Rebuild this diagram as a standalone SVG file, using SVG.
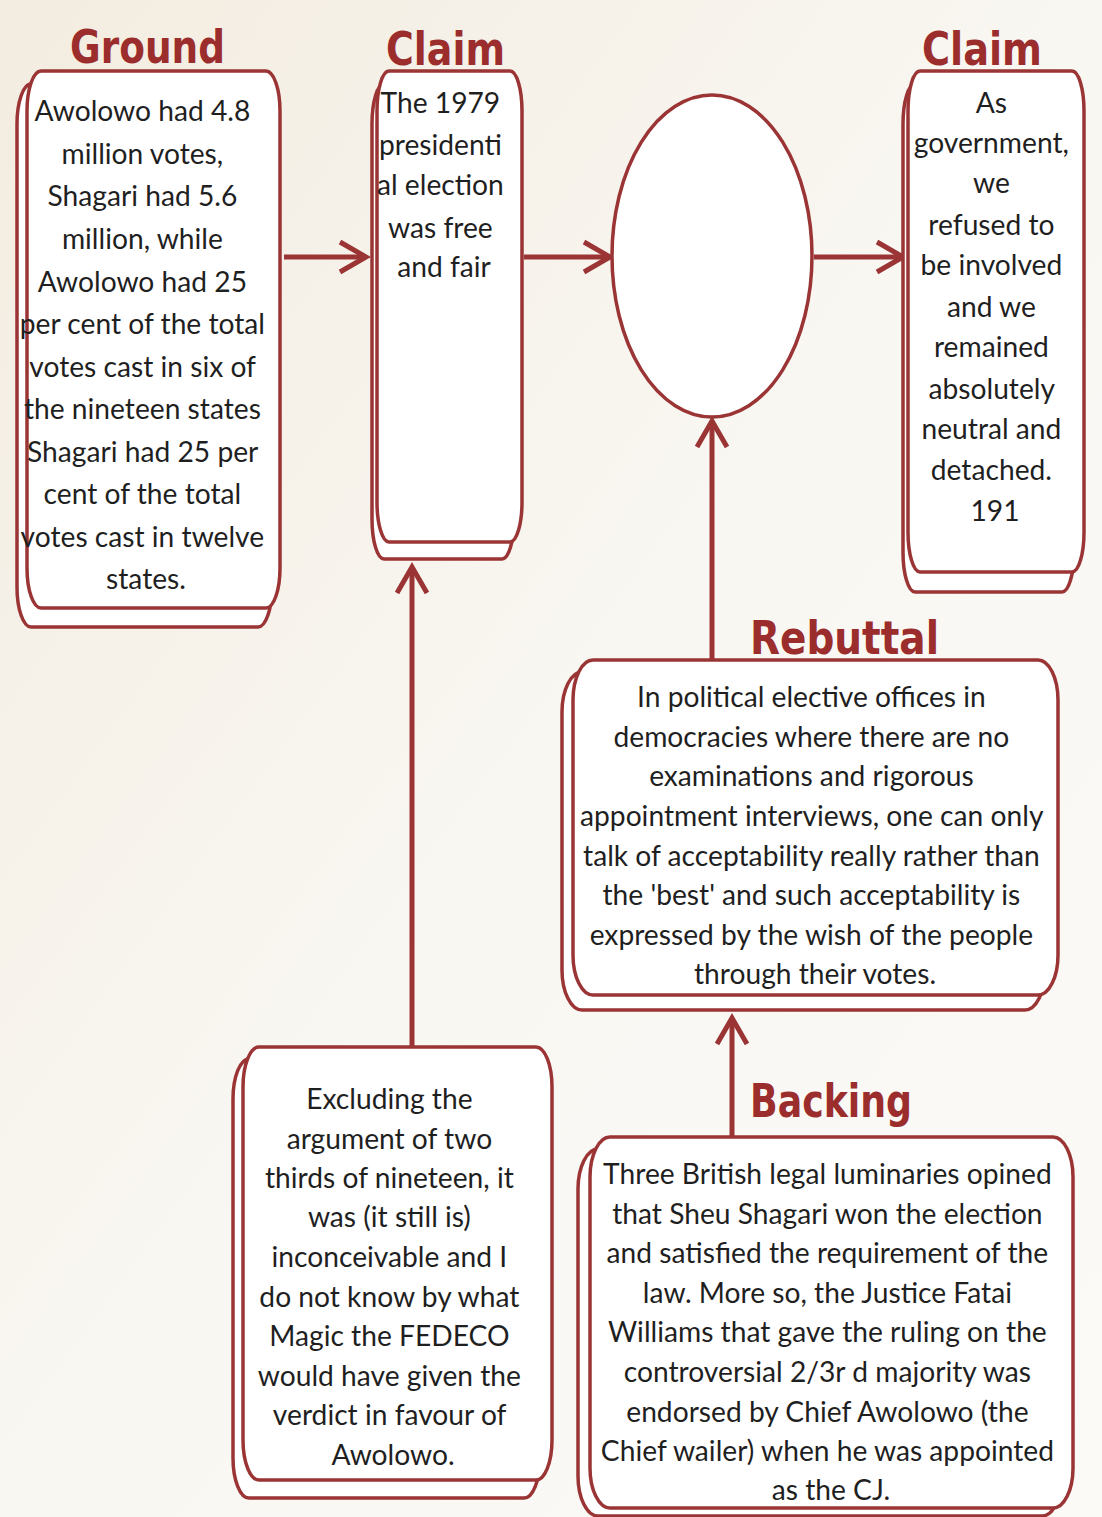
<svg xmlns="http://www.w3.org/2000/svg" width="1102" height="1517" viewBox="0 0 1102 1517">
  <style>
    .bx { fill: #ffffff; stroke: #9b3434; stroke-width: 3.5; }
    .body { font-family: Lato, "Open Sans", sans-serif; font-size: 28.2px; fill: #1f1f1f; text-anchor: middle; }
    .ttl { font-family: "DejaVu Sans", sans-serif; font-weight: bold; font-size: 46px; fill: #9b2d2d; }
    .ln { stroke: #9b3434; stroke-width: 5; fill: none; }
  </style>
  <defs>
    <linearGradient id="bg" x1="0" y1="0" x2="1" y2="1">
      <stop offset="0" stop-color="#f3ece0"/>
      <stop offset="0.5" stop-color="#f9f7f2"/>
      <stop offset="1" stop-color="#fbfaf7"/>
    </linearGradient>
    <marker id="arr" markerUnits="userSpaceOnUse" markerWidth="40" markerHeight="40" refX="30" refY="20" orient="auto" overflow="visible">
      <path d="M4,5 L30,20 L4,35" fill="none" stroke="#9b3434" stroke-width="5"/>
    </marker>
  </defs>

  <rect width="1102" height="1517" fill="url(#bg)"/>

  <!-- connectors -->
  <g id="connectors">
    <line class="ln" x1="284" y1="257" x2="366" y2="257" marker-end="url(#arr)"/>
    <line class="ln" x1="524" y1="257" x2="610" y2="257" marker-end="url(#arr)"/>
    <line class="ln" x1="814" y1="257" x2="903" y2="257" marker-end="url(#arr)"/>
    <line class="ln" x1="712" y1="660" x2="712" y2="421" marker-end="url(#arr)"/>
    <line class="ln" x1="412" y1="1047" x2="412" y2="567" marker-end="url(#arr)"/>
    <line class="ln" x1="732" y1="1137" x2="732" y2="1018" marker-end="url(#arr)"/>
  </g>

  <!-- Ground -->
  <g id="ground">
    <text class="ttl" x="70" y="63" textLength="155" lengthAdjust="spacingAndGlyphs">Ground</text>
    <rect class="bx" x="17" y="84" width="255" height="543" rx="14" ry="40"/>
    <rect class="bx" x="27" y="71" width="253" height="537" rx="14" ry="40"/>
    <text class="body">
      <tspan x="146" y="121">Awolowo had 4.8</tspan>
      <tspan x="146" y="164">million votes,</tspan>
      <tspan x="146" y="206">Shagari had 5.6</tspan>
      <tspan x="146" y="249">million, while</tspan>
      <tspan x="146" y="292">Awolowo had 25</tspan>
      <tspan x="146" y="334">per cent of the total</tspan>
      <tspan x="146" y="377">votes cast in six of</tspan>
      <tspan x="146" y="419">the nineteen states</tspan>
      <tspan x="146" y="462">Shagari had 25 per</tspan>
      <tspan x="146" y="504">cent of the total</tspan>
      <tspan x="146" y="547">votes cast in twelve</tspan>
      <tspan x="146" y="589">states.</tspan>
    </text>
  </g>

  <!-- Claim (left) -->
  <g id="claim1">
    <text class="ttl" x="386" y="65" textLength="119" lengthAdjust="spacingAndGlyphs">Claim</text>
    <rect class="bx" x="372" y="84" width="142" height="475" rx="12" ry="40"/>
    <rect class="bx" x="377" y="71" width="145" height="471" rx="12" ry="40"/>
    <text class="body">
      <tspan x="444" y="113">The 1979</tspan>
      <tspan x="444" y="155">presidenti</tspan>
      <tspan x="444" y="195">al election</tspan>
      <tspan x="444" y="238">was free</tspan>
      <tspan x="444" y="277">and fair</tspan>
    </text>
  </g>

  <!-- empty ellipse -->
  <g id="qualifier">
    <ellipse class="bx" cx="712" cy="256" rx="100" ry="161"/>
  </g>

  <!-- Claim (right) -->
  <g id="claim2">
    <text class="ttl" x="922" y="65" textLength="120" lengthAdjust="spacingAndGlyphs">Claim</text>
    <rect class="bx" x="903" y="84" width="171" height="508" rx="12" ry="40"/>
    <rect class="bx" x="908" y="71" width="176" height="501" rx="12" ry="40"/>
    <text class="body">
      <tspan x="995" y="113">As</tspan>
      <tspan x="995" y="153">government,</tspan>
      <tspan x="995" y="193">we</tspan>
      <tspan x="995" y="235">refused to</tspan>
      <tspan x="995" y="275">be involved</tspan>
      <tspan x="995" y="317">and we</tspan>
      <tspan x="995" y="357">remained</tspan>
      <tspan x="995" y="399">absolutely</tspan>
      <tspan x="995" y="439">neutral and</tspan>
      <tspan x="995" y="480">detached.</tspan>
      <tspan x="995" y="521">191</tspan>
    </text>
  </g>

  <!-- Rebuttal -->
  <g id="rebuttal">
    <text class="ttl" x="750" y="654" textLength="189" lengthAdjust="spacingAndGlyphs">Rebuttal</text>
    <rect class="bx" x="562" y="672" width="483" height="338" rx="20" ry="40"/>
    <rect class="bx" x="573" y="660" width="485" height="335" rx="20" ry="40"/>
    <text class="body">
      <tspan x="815" y="707">In political elective offices in</tspan>
      <tspan x="815" y="747">democracies where there are no</tspan>
      <tspan x="815" y="786">examinations and rigorous</tspan>
      <tspan x="815" y="826">appointment interviews, one can only</tspan>
      <tspan x="815" y="866">talk of acceptability really rather than</tspan>
      <tspan x="815" y="905">the 'best' and such acceptability is</tspan>
      <tspan x="815" y="945">expressed by the wish of the people</tspan>
      <tspan x="815" y="984">through their votes.</tspan>
    </text>
  </g>

  <!-- Warrant / Excluding -->
  <g id="warrant">
    <rect class="bx" x="233" y="1059" width="307" height="439" rx="16" ry="40"/>
    <rect class="bx" x="243" y="1047" width="309" height="433" rx="16" ry="40"/>
    <text class="body">
      <tspan x="393" y="1109">Excluding the</tspan>
      <tspan x="393" y="1149">argument of two</tspan>
      <tspan x="393" y="1188">thirds of nineteen, it</tspan>
      <tspan x="393" y="1227">was (it still is)</tspan>
      <tspan x="393" y="1267">inconceivable and I</tspan>
      <tspan x="393" y="1307">do not know by what</tspan>
      <tspan x="393" y="1346">Magic the FEDECO</tspan>
      <tspan x="393" y="1386">would have given the</tspan>
      <tspan x="393" y="1425">verdict in favour of</tspan>
      <tspan x="393" y="1465">Awolowo.</tspan>
    </text>
  </g>

  <!-- Backing -->
  <g id="backing">
    <text class="ttl" x="750" y="1117" textLength="162" lengthAdjust="spacingAndGlyphs">Backing</text>
    <rect class="bx" x="578" y="1149" width="484" height="367" rx="20" ry="40"/>
    <rect class="bx" x="590" y="1137" width="483" height="371" rx="20" ry="40"/>
    <text class="body">
      <tspan x="831" y="1184">Three British legal luminaries opined</tspan>
      <tspan x="831" y="1224">that Sheu Shagari won the election</tspan>
      <tspan x="831" y="1263">and satisfied the requirement of the</tspan>
      <tspan x="831" y="1303">law. More so, the Justice Fatai</tspan>
      <tspan x="831" y="1342">Williams that gave the ruling on the</tspan>
      <tspan x="831" y="1382">controversial 2/3r d majority was</tspan>
      <tspan x="831" y="1422">endorsed by Chief Awolowo (the</tspan>
      <tspan x="831" y="1461">Chief wailer) when he was appointed</tspan>
      <tspan x="831" y="1500">as the CJ.</tspan>
    </text>
  </g>
</svg>
